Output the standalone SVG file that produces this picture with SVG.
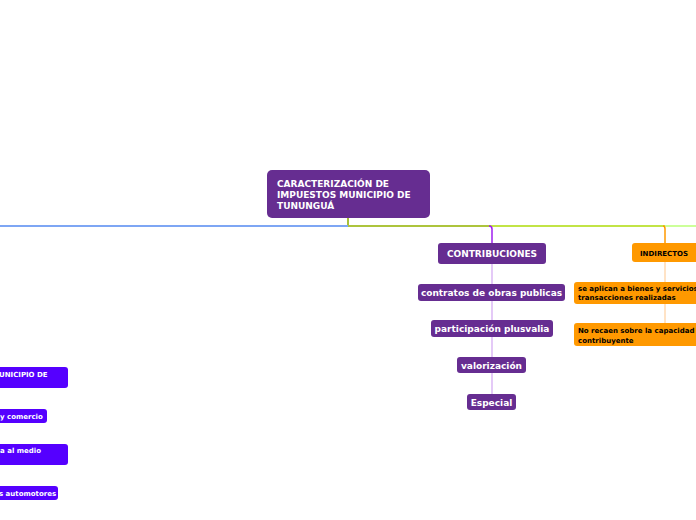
<svg xmlns="http://www.w3.org/2000/svg" width="696" height="520" viewBox="0 0 696 520">
<style>
.t{font-family:"DejaVu Sans",Verdana,sans-serif;font-weight:bold;}
.pw{fill:#ffffff;font-size:9px;}
.ob{fill:#000000;font-size:7px;}
.bw{fill:#ffffff;font-size:7px;}
.pb{fill:#662d91;}
.or{fill:#ff9900;}
.bl{fill:#5500ff;}
</style>
<rect width="696" height="520" fill="#ffffff"/>
<g id="connectors" fill="none">
  <path d="M348 218 V226" stroke="#a8c038" stroke-width="2"/>
  <path d="M0 226 H348" stroke="#7ea6f4" stroke-width="2"/>
  <path d="M348 226 H491" stroke="#adc43c" stroke-width="2"/>
  <path d="M491 226 H665" stroke="#c2e446" stroke-width="2"/>
  <path d="M665 226 H696" stroke="#ccff99" stroke-width="2"/>
  <path d="M489 226 Q492 226 492 229 V243" stroke="#a020f0" stroke-width="1.5"/>
  <path d="M663 226 Q665 226 665 229 V243" stroke="#ff9900" stroke-width="1.5"/>
  <path d="M492 264 V394" stroke="#d2a6f2" stroke-width="1.2"/>
  <path d="M665 262 V323" stroke="#ffd0a0" stroke-width="1.2"/>
</g>
<g id="main">
  <rect x="267" y="170" width="163" height="48" rx="5" class="pb"/>
  <text class="t pw" x="277" y="187">CARACTERIZACIÓN DE</text>
  <text class="t pw" x="277" y="198">IMPUESTOS MUNICIPIO DE</text>
  <text class="t pw" x="277" y="209">TUNUNGUÁ</text>
</g>
<g id="contribuciones">
  <rect x="438" y="243" width="108" height="21" rx="3" class="pb"/>
  <text class="t pw" x="492" y="257" text-anchor="middle" font-size="8.6">CONTRIBUCIONES</text>
</g>
<g id="contratos">
  <rect x="418" y="284" width="147" height="17" rx="3" class="pb"/>
  <text class="t pw" x="491.5" y="296" text-anchor="middle">contratos de obras publicas</text>
</g>
<g id="plusvalia">
  <rect x="431" y="320" width="122" height="17" rx="3" class="pb"/>
  <text class="t pw" x="492" y="332" text-anchor="middle">participación plusvalia</text>
</g>
<g id="valorizacion">
  <rect x="457" y="357" width="69" height="16" rx="3" class="pb"/>
  <text class="t pw" x="491.5" y="369" text-anchor="middle">valorización</text>
</g>
<g id="especial">
  <rect x="467" y="394" width="49" height="16" rx="3" class="pb"/>
  <text class="t pw" x="491.5" y="406" text-anchor="middle">Especial</text>
</g>
<g id="indirectos">
  <rect x="632" y="243" width="70" height="19" rx="3" class="or"/>
  <text class="t ob" x="640" y="256" font-size="7.3">INDIRECTOS</text>
</g>
<g id="bienes">
  <rect x="574" y="282" width="128" height="22" rx="3" class="or"/>
  <text class="t ob" x="578" y="291">se aplican a bienes y servicios</text>
  <text class="t ob" x="578" y="300">transacciones realizadas</text>
</g>
<g id="capacidad">
  <rect x="574" y="323" width="128" height="23" rx="3" class="or"/>
  <text class="t ob" x="578" y="333">No recaen sobre la capacidad de</text>
  <text class="t ob" x="578" y="343">contribuyente</text>
</g>
<g id="left1">
  <rect x="-60" y="367" width="128" height="21" rx="3" class="bl"/>
  <text class="t bw" x="-1" y="377">UNICIPIO DE</text>
</g>
<g id="left2">
  <rect x="-60" y="409" width="107" height="14" rx="3" class="bl"/>
  <text class="t bw" x="0" y="419">y comercio</text>
</g>
<g id="left3">
  <rect x="-60" y="444" width="128" height="21" rx="3" class="bl"/>
  <text class="t bw" x="0" y="453">a al medio</text>
</g>
<g id="left4">
  <rect x="-60" y="486" width="118" height="14" rx="3" class="bl"/>
  <text class="t bw" x="-1" y="496">s automotores</text>
</g>
</svg>
